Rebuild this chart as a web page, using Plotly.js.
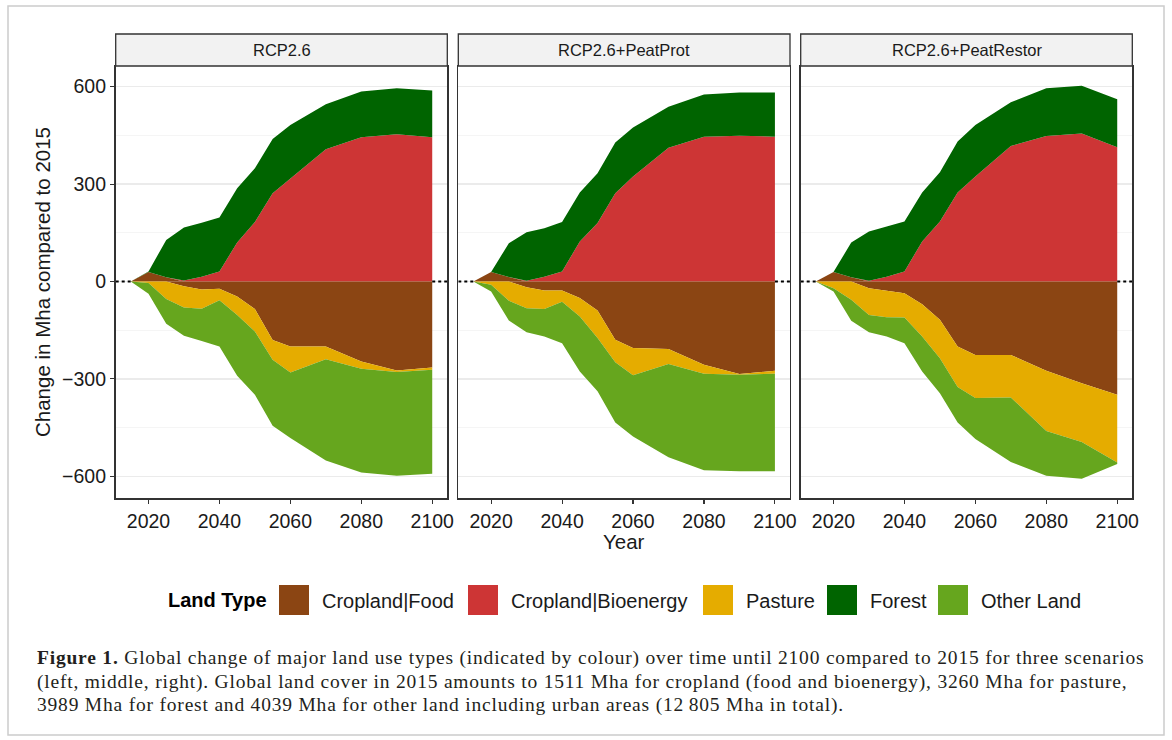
<!DOCTYPE html>
<html>
<head>
<meta charset="utf-8">
<script src="https://cdn.plot.ly/plotly-3.0.1.min.js"></script>
<style>
  html, body { margin: 0; padding: 0; background: #ffffff; }
  #chart { width: 1172px; height: 740px; }
</style>
</head>
<body>
<div id="chart"></div>
<script>
// ---------------- DATA ----------------
const years = [2015, 2020, 2025, 2030, 2035, 2040, 2045, 2050, 2055, 2060, 2070, 2080, 2090, 2100];

const scenarios = ['RCP2.6', 'RCP2.6+PeatProt', 'RCP2.6+PeatRestor'];
const landTypes = ['Cropland|Food', 'Cropland|Bioenergy', 'Pasture', 'Forest', 'Other Land'];
const landColors = ['#8B4513', '#CD3535', '#E5AC00', '#006400', '#66A61E'];

// Change in Mha compared to 2015 — RCP2.6
const food_rcp26    = [0, 29, 13, -15, -25, -22, -46, -85, -180, -200, -200, -246, -274, -265];
const bio_rcp26     = [0, 0, 0, 3, 15, 31, 120, 183, 272, 318, 407, 444, 453, 444];
const pasture_rcp26 = [0, -5, -54, -65, -59, -36, -57, -69, -61, -80, -39, -23, -5, -7];
const forest_rcp26  = [0, 2, 115, 163, 166, 166, 167, 166, 167, 164, 139, 141, 142, 144];
const other_rcp26   = [0, -33, -76, -87, -99, -142, -187, -195, -203, -202, -312, -319, -319, -320];

// RCP2.6+PeatProt
const food_prot    = [0, 29, 14, -18, -28, -28, -51, -89, -179, -205, -208, -256, -285, -275];
const bio_prot     = [0, 0, 0, 2, 15, 31, 123, 180, 272, 323, 412, 446, 449, 446];
const pasture_prot = [0, -10, -59, -64, -57, -34, -57, -85, -70, -84, -46, -28, -2, -9];
const forest_prot  = [0, 0, 104, 150, 149, 152, 151, 153, 156, 151, 126, 130, 133, 136];
const other_prot   = [0, -21, -61, -74, -84, -128, -169, -164, -185, -188, -287, -297, -297, -300];

// RCP2.6+PeatRestor
const food_restor    = [0, 29, 13, -21, -28, -36, -70, -118, -200, -226, -226, -275, -313, -349];
const bio_restor     = [0, 0, 0, 2, 15, 31, 123, 185, 274, 323, 417, 448, 456, 413];
const pasture_restor = [0, -21, -56, -82, -82, -75, -99, -118, -125, -133, -131, -185, -181, -208];
const forest_restor  = [0, 0, 107, 152, 154, 154, 151, 151, 157, 159, 135, 147, 147, 148];
const other_restor   = [0, -10, -65, -53, -59, -79, -108, -108, -109, -126, -199, -138, -113, -5];

const xTickVals = [2020, 2040, 2060, 2080, 2100];
const yTickVals = [-600, -300, 0, 300, 600];
const yTickText = ['\u2212600', '\u2212300', '0', '300', '600'];
const yMinorVals = [-450, -150, 150, 450];

const xTitle = 'Year';
const yTitle = 'Change in Mha compared to 2015';
const legendTitle = 'Land Type';
const captionLines = [
  '<b>Figure 1.</b> Global change of major land use types (indicated by colour) over time until 2100 compared to 2015 for three scenarios',
  '(left, middle, right). Global land cover in 2015 amounts to 1511 Mha for cropland (food and bioenergy), 3260 Mha for pasture,',
  '3989 Mha for forest and 4039 Mha for other land including urban areas (12\u2009805 Mha in total).'
];

const scenarioSeries = [
  [food_rcp26, bio_rcp26, pasture_rcp26, forest_rcp26, other_rcp26],
  [food_prot, bio_prot, pasture_prot, forest_prot, other_prot],
  [food_restor, bio_restor, pasture_restor, forest_restor, other_restor]
];

// ---------------- LAYOUT HELPERS ----------------
const W = 1172, H = 740;
const px = x => x / W;
const py = y => 1 - y / H;

const SANS = 'Liberation Sans, Arial, Helvetica, sans-serif';
const SERIF = 'Liberation Serif, Times New Roman, serif';
const TXT = '#1A1A1A';
const AXC = '#333333';

const panelX = [[115.7, 447.3], [458.3, 790.0], [800.7, 1132.3]];
const panelTop = 66, panelBottom = 498.3, stripTop = 34;
const xRange = [2010.75, 2104.25];
const yRange = [-667.5, 663.5];

// ---------------- TRACES ----------------
const traces = [];
scenarios.forEach((sc, s) => {
  const sfx = s === 0 ? '' : String(s + 1);
  ['pos', 'neg'].forEach(sign => {
    landTypes.forEach((lt, k) => {
      const vals = scenarioSeries[s][k].map(v => sign === 'pos' ? Math.max(v, 0) : Math.min(v, 0));
      traces.push({
        type: 'scatter',
        mode: 'lines',
        x: years,
        y: vals,
        name: lt,
        stackgroup: sign + s,
        line: { width: 0, color: landColors[k] },
        fillcolor: landColors[k],
        xaxis: 'x' + sfx,
        yaxis: 'y' + sfx,
        showlegend: false,
        hoverinfo: 'skip'
      });
    });
  });
  // dotted zero reference line (visible outside the stacked areas)
  const firstYear = years[0], lastYear = years[years.length - 1];
  traces.push({
    type: 'scatter', mode: 'lines',
    x: [xRange[0], firstYear, null, lastYear, xRange[1]],
    y: [0, 0, null, 0, 0],
    connectgaps: false,
    line: { color: '#000000', width: 1.8, dash: 'dot' },
    xaxis: 'x' + sfx, yaxis: 'y' + sfx,
    showlegend: false, hoverinfo: 'skip'
  });
});

// ---------------- LAYOUT ----------------
const layout = {
  width: W, height: H,
  margin: { l: 0, r: 0, t: 0, b: 0, autoexpand: false },
  paper_bgcolor: '#ffffff',
  plot_bgcolor: '#ffffff',
  showlegend: false,
  shapes: [],
  annotations: []
};

scenarios.forEach((sc, s) => {
  const sfx = s === 0 ? '' : String(s + 1);
  const [x0, x1] = panelX[s];
  layout['xaxis' + sfx] = {
    domain: [px(x0), px(x1)],
    range: xRange,
    anchor: 'y' + sfx,
    tickmode: 'array',
    tickvals: xTickVals,
    ticks: 'outside', ticklen: 4.5, tickwidth: 1.1, tickcolor: AXC,
    showline: true, mirror: true, linecolor: AXC, linewidth: 1.3,
    showgrid: false, zeroline: false,
    tickfont: { family: SANS, size: 19.5, color: TXT },
    fixedrange: true
  };
  layout['yaxis' + sfx] = {
    domain: [py(panelBottom), py(panelTop)],
    range: yRange,
    anchor: 'x' + sfx,
    tickmode: 'array',
    tickvals: yTickVals,
    ticktext: yTickText,
    showticklabels: s === 0,
    ticks: s === 0 ? 'outside' : '',
    ticklen: 4.5, tickwidth: 1.1, tickcolor: AXC,
    showline: true, mirror: true, linecolor: AXC, linewidth: 1.3,
    showgrid: true, gridcolor: '#EBEBEB', gridwidth: 1.2,
    minor: { tickvals: yMinorVals, showgrid: true, gridcolor: '#EFEFEF', gridwidth: 0.6, ticks: '' },
    zeroline: false,
    tickfont: { family: SANS, size: 19.5, color: TXT },
    fixedrange: true
  };
  // strip
  layout.shapes.push({
    type: 'rect', xref: 'paper', yref: 'paper',
    x0: px(x0), x1: px(x1), y0: py(panelTop), y1: py(stripTop),
    fillcolor: '#F2F2F2', line: { color: AXC, width: 1.3 }
  });
  layout.annotations.push({
    xref: 'paper', yref: 'paper', x: px((x0 + x1) / 2), y: py((panelTop + stripTop) / 2),
    text: sc, showarrow: false, xanchor: 'center', yanchor: 'middle',
    font: { family: SANS, size: 16.5, color: TXT }
  });
});

// axis titles
layout.annotations.push({
  xref: 'paper', yref: 'paper', x: px(624), y: py(541),
  text: xTitle, showarrow: false, xanchor: 'center', yanchor: 'middle',
  font: { family: SANS, size: 20.5, color: TXT }
});
layout.annotations.push({
  xref: 'paper', yref: 'paper', x: px(42), y: py(282),
  text: yTitle, showarrow: false, textangle: -90, xanchor: 'center', yanchor: 'middle',
  font: { family: SANS, size: 20.5, color: TXT }
});

// legend (manual, ggplot style)
const legendKeyX = [279, 468, 703, 827, 938];
const legendY0 = 585, legendKey = 30;
layout.annotations.push({
  xref: 'paper', yref: 'paper', x: px(166), y: py(600),
  text: '<b>' + legendTitle + '</b>', showarrow: false, xanchor: 'left', yanchor: 'middle',
  font: { family: SANS, size: 20, color: '#000000' }
});
landTypes.forEach((lt, k) => {
  const kx = legendKeyX[k];
  layout.shapes.push({
    type: 'rect', xref: 'paper', yref: 'paper',
    x0: px(kx), x1: px(kx + legendKey), y0: py(legendY0 + legendKey), y1: py(legendY0),
    fillcolor: landColors[k], line: { width: 0 }
  });
  layout.annotations.push({
    xref: 'paper', yref: 'paper', x: px(kx + 41), y: py(600.5),
    text: lt, showarrow: false, xanchor: 'left', yanchor: 'middle',
    font: { family: SANS, size: 20, color: TXT }
  });
});

// caption
const capY = [658, 681.5, 705];
captionLines.forEach((t, i) => {
  layout.annotations.push({
    xref: 'paper', yref: 'paper', x: px(35), y: py(capY[i]),
    text: '<span style="letter-spacing:0.8px">' + t + '</span>',
    showarrow: false, xanchor: 'left', yanchor: 'middle', align: 'left',
    font: { family: SERIF, size: 19.5, color: '#231F20' }
  });
});

// figure frame
layout.shapes.push({
  type: 'rect', xref: 'paper', yref: 'paper',
  x0: px(8), x1: px(1164), y0: py(735), y1: py(6),
  fillcolor: 'rgba(0,0,0,0)', line: { color: '#CCCCCC', width: 1.5 }
});

Plotly.newPlot('chart', traces, layout, { staticPlot: true, displayModeBar: false });
</script>
</body>
</html>
